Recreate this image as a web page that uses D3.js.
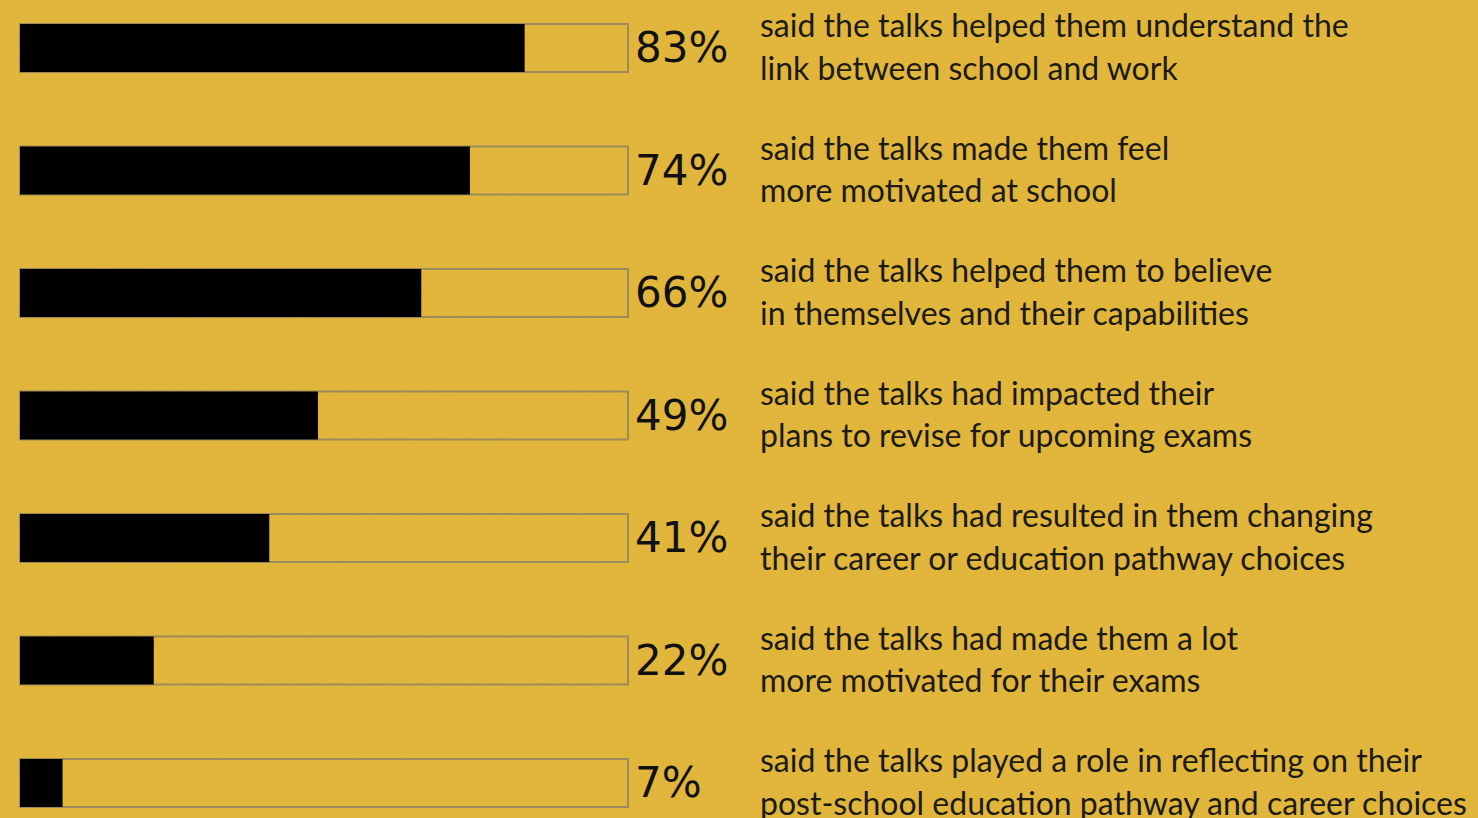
<!DOCTYPE html>
<html lang="en">
<head>
    <meta charset="UTF-8">
    <title>Talks survey bars</title>
    <script src="https://d3js.org/d3.v7.min.js" charset="utf-8"></script>
    <style>
        html, body { margin: 0; padding: 0; background: #e2b53a; }
        svg { display: block; }
    </style>
</head>
<body>
<script>
    // values
    var percents = [83, 74, 66, 49, 41, 22, 7];
    var firstLines = [
        'said the talks helped them understand the',
        'said the talks made them feel',
        'said the talks helped them to believe',
        'said the talks had impacted their',
        'said the talks had resulted in them changing',
        'said the talks had made them a lot',
        'said the talks played a role in reflecting on their'
    ];
    var secondLines = [
        'link between school and work',
        'more motivated at school',
        'in themselves and their capabilities',
        'plans to revise for upcoming exams',
        'their career or education pathway choices',
        'more motivated for their exams',
        'post-school education pathway and career choices'
    ];

    var svgwidth = 1478;
    var svgheight = 818;

    var svg = d3.select('body').append('svg')
        .attr('width', svgwidth)
        .attr('height', svgheight);

    // paper-like grain on the yellow background
    var defs = svg.append('defs');
    var grain = defs.append('filter').attr('id', 'grain');
    grain.append('feTurbulence')
        .attr('type', 'fractalNoise')
        .attr('baseFrequency', 0.6)
        .attr('numOctaves', 2)
        .attr('seed', 3);
    grain.append('feColorMatrix')
        .attr('type', 'matrix')
        .attr('values', '0 0 0 0 0.45  0 0 0 0 0.32  0 0 0 0 0.05  0 0 0 0.10 0');

    svg.append('rect')
        .attr('width', svgwidth)
        .attr('height', svgheight)
        .attr('fill', '#e3b73b');
    svg.append('rect')
        .attr('width', svgwidth)
        .attr('height', svgheight)
        .attr('filter', 'url(#grain)');

    var x = d3.scaleLinear().domain([0, 100]).range([20, 628]);
    var y = d3.scaleBand()
        .domain(d3.range(percents.length))
        .range([24, 807])
        .paddingInner(0.608)
        .paddingOuter(0);

    var rows = svg.selectAll('.row')
        .data(percents)
        .enter().append('g')
        .attr('class', 'row')
        .attr('transform', (d, i) => 'translate(0,' + y(i) + ')');

    // outline of the full 100% box
    rows.append('rect')
        .attr('x', x(0))
        .attr('y', 0)
        .attr('width', x(100) - x(0))
        .attr('height', y.bandwidth())
        .attr('fill', 'none')
        .attr('stroke', '#9c8b5c')
        .attr('stroke-width', 2);

    // filled part
    rows.append('rect')
        .attr('x', x(0))
        .attr('y', 0)
        .attr('width', d => x(d) - x(0))
        .attr('height', y.bandwidth())
        .attr('fill', '#000');

    rows.append('text')
        .attr('x', 635)
        .attr('y', y.bandwidth() / 2 + 14)
        .style('font-family', 'DejaVu Sans, sans-serif')
        .style('font-size', '42px')
        .style('fill', '#111')
        .text(d => d + '%');

    rows.append('text')
        .attr('x', 760)
        .attr('y', y.bandwidth() / 2 - 11)
        .style('font-family', 'Lato, sans-serif')
        .style('font-size', '32px')
        .style('fill', '#1c1a14')
        .text((d, i) => firstLines[i]);

    rows.append('text')
        .attr('x', 760)
        .attr('y', y.bandwidth() / 2 + 32)
        .style('font-family', 'Lato, sans-serif')
        .style('font-size', '32px')
        .style('fill', '#1c1a14')
        .text((d, i) => secondLines[i]);
</script>
</body>
</html>
